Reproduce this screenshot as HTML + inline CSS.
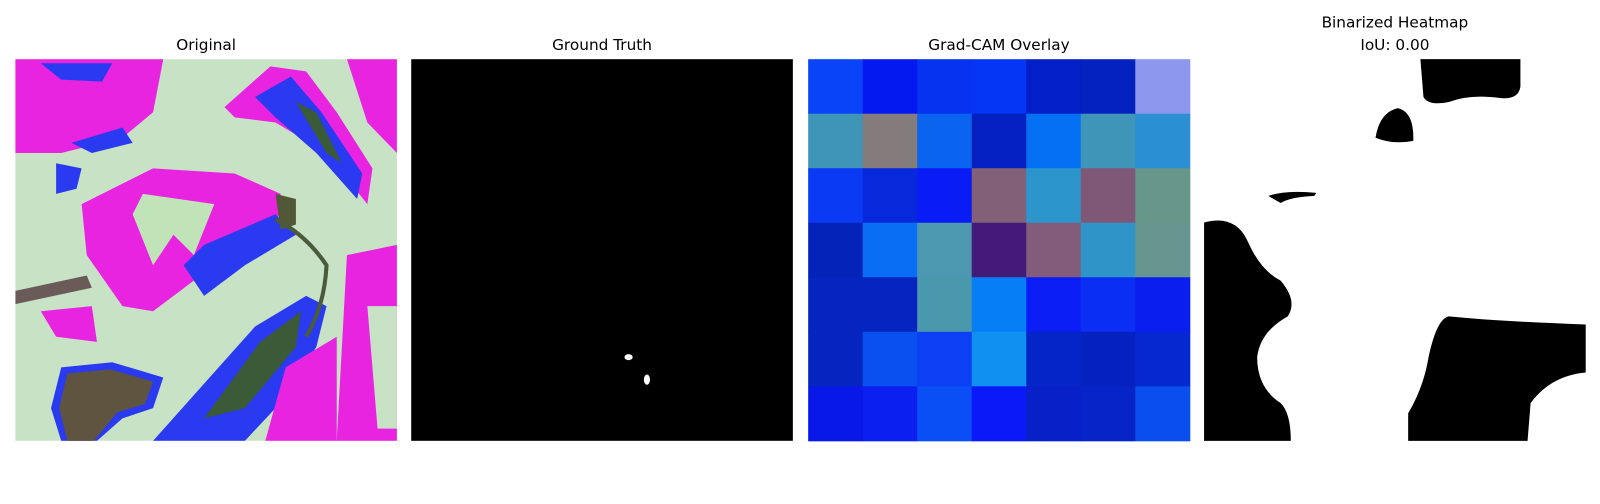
<!DOCTYPE html>
<html><head><meta charset="utf-8"><style>
body{margin:0;background:#fff;width:1600px;height:500px;overflow:hidden;font-family:"DejaVu Sans","Liberation Sans",sans-serif}
svg text{font-family:"DejaVu Sans","Liberation Sans",sans-serif;font-size:15px;fill:#000}
</style></head><body>
<svg width="1600" height="500" viewBox="0 0 1568 490" preserveAspectRatio="none">
<g>
<text x="202" y="49" text-anchor="middle">Original</text>
<clipPath id="c1"><rect x="15" y="58" width="374" height="374"/></clipPath>
<g clip-path="url(#c1)">
<rect x="15" y="58" width="374" height="374" fill="#c8e2c6"/>
<polygon points="15,58 160,58 150,110 120,135 60,150 15,150" fill="#e824e0"/>
<polygon points="40,62 110,62 100,80 60,78" fill="#2a3af0"/>
<polygon points="70,140 120,125 130,140 90,150" fill="#2a3af0"/>
<polygon points="55,160 80,165 75,185 55,190" fill="#2a3af0"/>
<polygon points="340,58 389,58 389,150 360,120" fill="#e824e0"/>
<polygon points="220,105 265,65 300,70 330,110 365,165 360,200 320,150 270,120 230,115" fill="#e824e0"/>
<polygon points="250,95 285,75 315,110 355,170 350,195 310,150 270,115" fill="#2a3af0"/>
<polygon points="290,100 310,110 335,160 320,150" fill="#3a5a38"/>
<polygon points="80,200 150,165 230,170 275,190 270,240 210,260 150,305 120,300 85,250" fill="#e824e0"/>
<polygon points="200,240 270,210 290,230 240,260 200,290 180,260" fill="#2a3af0"/>
<polygon points="140,190 210,200 190,250 170,230 150,260 130,210" fill="#c0e4b8"/>
<polygon points="270,190 290,195 290,220 275,225" fill="#505838"/>
<polygon points="15,285 85,270 90,282 15,298" fill="#6a5a58"/>
<polygon points="150,432 250,320 300,290 320,300 310,340 270,400 240,432" fill="#2a3af0"/>
<polygon points="200,410 255,335 295,305 290,340 240,400" fill="#3a5a38"/>
<polygon points="280,360 330,330 330,432 260,432" fill="#e824e0"/>
<polygon points="340,250 389,240 389,432 330,432" fill="#e824e0"/>
<polygon points="360,300 389,300 389,420 370,420" fill="#c8e2c6"/>
<polygon points="60,360 110,355 160,370 150,400 120,410 95,432 60,432 50,400" fill="#2a3af0"/>
<polygon points="66,366 108,362 150,374 142,396 115,404 92,432 66,432 58,400" fill="#5e5440"/>
<polygon points="40,305 90,300 95,335 55,330" fill="#e824e0"/>
<path d="M270,215 Q300,230 320,260 Q318,300 300,330" stroke="#4a5a3a" stroke-width="4" fill="none"/>
</g>
</g>
<g>
<text x="590" y="49" text-anchor="middle">Ground Truth</text>
<rect x="403" y="58" width="374" height="374" fill="#000"/>
<ellipse cx="616" cy="350" rx="4" ry="3" fill="#fff"/>
<ellipse cx="634" cy="372" rx="3" ry="5" fill="#fff"/>
</g>
<g>
<text x="979" y="49" text-anchor="middle">Grad-CAM Overlay</text>
<g id="grid"></g>
</g>
<g>
<text x="1367" y="27" text-anchor="middle">Binarized Heatmap</text>
<text x="1367" y="49" text-anchor="middle">IoU: 0.00</text>
<rect x="1180" y="58" width="374" height="374" fill="#fff"/>
<path d="M1392,58 L1490,58 L1490,85 Q1488,98 1470,96 Q1440,92 1420,100 Q1400,104 1395,95 Z" fill="#000"/>
<path d="M1348,135 Q1352,110 1370,106 Q1386,110 1385,138 Q1365,142 1348,135 Z" fill="#000"/>
<path d="M1243,192 Q1260,186 1290,189 L1288,192 Q1265,193 1255,199 Z" fill="#000"/>
<path d="M1180,218 Q1210,210 1222,235 Q1235,265 1255,275 Q1272,295 1262,310 Q1235,325 1232,350 Q1232,380 1255,395 Q1265,405 1265,432 L1180,432 Z" fill="#000"/>
<path d="M1380,432 L1380,405 Q1395,380 1400,350 Q1408,312 1420,310 Q1470,315 1554,318 L1554,365 Q1520,368 1500,395 L1497,432 Z" fill="#000"/>
</g>
</svg>
<script>
const row0=["#0a44f8","#0418f0","#0533f0","#0535f5","#031fc8","#0422c0","#8e97ee"];
const row1=["#3f95b8","#837b7c","#0a64f0","#0420c0","#0670f5","#3f95b8","#2b8fd4"];
const row2=["#0b3af5","#0828dc","#0a1cf5","#816078","#2b95cc","#7f5878","#67968a"];
const row3=["#0423b8","#0a6ef5","#4b98b0","#441a78","#835c7c","#2f95c8","#679690"];
const row4=["#0625c0","#0625c0","#4a98ac","#067ef5","#0a1ef5","#0b2ef5","#0a1ef0"];
const row5=["#0625c0","#0a50f0","#0b40f5","#1090f0","#0625c8","#0522c0","#0628d0"];
const row6=["#0818e8","#0b1ff0","#0a4ef5","#0b18f8","#0820c8","#0624c8","#0a4ef0"];
const rows=[row0,row1,row2,row3,row4,row5,row6];
const g=document.getElementById('grid');
const x0=792,y0=58,size=374,n=rows.length,cs=size/n;
rows.forEach((r,i)=>r.forEach((c,j)=>{
 const el=document.createElementNS('http://www.w3.org/2000/svg','rect');
 el.setAttribute('x',x0+j*cs);el.setAttribute('y',y0+i*cs);
 el.setAttribute('width',cs+0.5);el.setAttribute('height',cs+0.5);
 el.setAttribute('fill',c);
 
 
 g.appendChild(el);
}));
</script>
</body></html>
